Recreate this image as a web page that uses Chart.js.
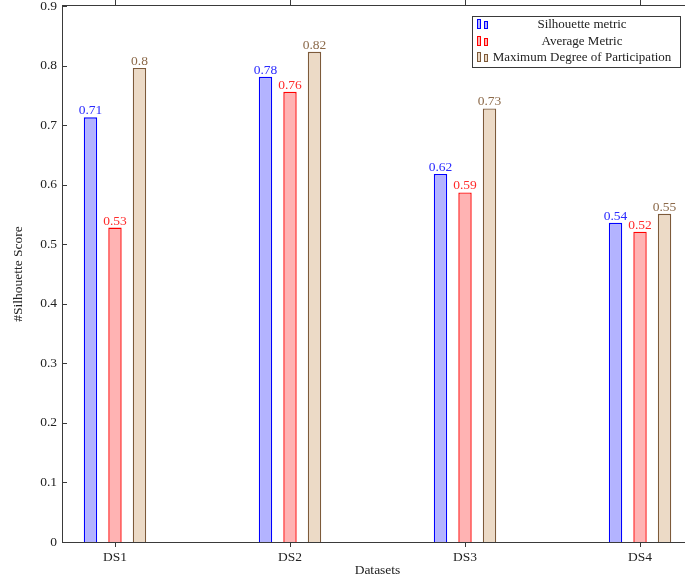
<!DOCTYPE html>
<html>
<head>
<meta charset="utf-8">
<script src="https://cdn.jsdelivr.net/npm/chart.js@4.4.1/dist/chart.umd.min.js"></script>
<style>
html,body{margin:0;padding:0;background:#fff;overflow:hidden;width:685px;height:580px;}
canvas{display:block;}
</style>
</head>
<body>
<canvas id="c" width="710" height="580" style="width:710px;height:580px"></canvas>
<script>
const categories = ['DS1', 'DS2', 'DS3', 'DS4'];
const categoryPos = [1, 2, 3, 4];
const seriesNames = ['Silhouette metric', 'Average Metric', 'Maximum Degree of Participation'];
const silhouette = [0.713, 0.781, 0.618, 0.536];
const average = [0.528, 0.756, 0.587, 0.521];
const maxDegree = [0.796, 0.823, 0.728, 0.551];
const yTicks = [0, 0.1, 0.2, 0.3, 0.4, 0.5, 0.6, 0.7, 0.8, 0.9];

const FONT = '"Liberation Serif", "DejaVu Serif", serif';
const borderColors = ['#0000ff', '#ff0000', '#7d5a3a'];
const fillColors = ['#b3b3ff', '#ffb3b3', '#ecdac6'];
const labelColors = ['#2a2aff', '#ff2a2a', '#8c6a4a'];
const AXIS = '#3a3a3a';

const seriesValues = [silhouette, average, maxDegree];
const datasets = seriesValues.map((vals, i) => ({
  label: seriesNames[i],
  data: vals.map((v, j) => ({x: categoryPos[j], y: v})),
  backgroundColor: fillColors[i],
  borderColor: borderColors[i],
  borderWidth: 1.4,
  borderSkipped: 'bottom',
  categoryPercentage: 0.42,
  barPercentage: 0.547
}));

const fmt = v => String(parseFloat(v.toFixed(2)));

const decor = {
  id: 'decor',
  afterDatasetsDraw(chart) {
    const ctx = chart.ctx;
    const a = chart.chartArea;
    const xs = chart.scales.x, ys = chart.scales.y;
    ctx.save();
    // value labels
    ctx.font = '13.5px ' + FONT;
    ctx.textAlign = 'center';
    ctx.textBaseline = 'alphabetic';
    chart.data.datasets.forEach((ds, i) => {
      const meta = chart.getDatasetMeta(i);
      meta.data.forEach((el, j) => {
        ctx.fillStyle = labelColors[i];
        ctx.fillText(fmt(ds.data[j].y), el.x, el.y - 3);
      });
    });
    // axis box
    ctx.strokeStyle = AXIS;
    ctx.lineWidth = 1;
    ctx.strokeRect(Math.round(a.left) - 0.5, Math.round(a.top) - 0.5, Math.round(a.right - a.left) + 1, Math.round(a.bottom - a.top) + 1);
    // y ticks inward
    ctx.beginPath();
    yTicks.forEach(t => {
      const y = Math.round(ys.getPixelForValue(t)) + 0.5;
      ctx.moveTo(a.left, y); ctx.lineTo(a.left + 4, y);
      ctx.moveTo(a.right, y); ctx.lineTo(a.right - 4, y);
    });
    // x ticks outward (top and bottom)
    categoryPos.forEach(p => {
      const x = Math.round(xs.getPixelForValue(p)) + 0.5;
      ctx.moveTo(x, a.top); ctx.lineTo(x, a.top - 6);
      ctx.moveTo(x, a.bottom); ctx.lineTo(x, a.bottom + 5);
    });
    ctx.stroke();
    // axis titles
    ctx.fillStyle = '#222';
    ctx.font = '13.5px ' + FONT;
    ctx.textAlign = 'center';
    ctx.textBaseline = 'middle';
    ctx.fillText('Datasets', (a.left + a.right) / 2, 570);
    ctx.save();
    ctx.translate(18, (a.top + a.bottom) / 2);
    ctx.rotate(-Math.PI / 2);
    ctx.fillText('#Silhouette Score', 0, 0);
    ctx.restore();
    // legend
    ctx.font = '13px ' + FONT;
    const lx = 472.5, ly = 16.5, lw = 208, lh = 51;
    ctx.fillStyle = '#fff';
    ctx.fillRect(lx, ly, lw, lh);
    ctx.strokeStyle = AXIS;
    ctx.strokeRect(lx, ly, lw, lh);
    const rows = [25, 42, 58];
    seriesNames.forEach((name, i) => {
      const cy = rows[i];
      ctx.fillStyle = fillColors[i];
      ctx.strokeStyle = borderColors[i];
      ctx.fillRect(477, cy - 6, 4, 10);
      ctx.strokeRect(477.5, cy - 5.5, 3, 9);
      ctx.fillRect(484, cy - 4, 4, 8);
      ctx.strokeRect(484.5, cy - 3.5, 3, 7);
      ctx.fillStyle = '#222';
      ctx.textAlign = 'center';
      ctx.textBaseline = 'middle';
      ctx.fillText(name, 582, cy);
    });
    ctx.restore();
  }
};

new Chart(document.getElementById('c'), {
  type: 'bar',
  data: { datasets },
  options: {
    responsive: false,
    animation: false,
    layout: { padding: { left: 0, top: 6, right: 18, bottom: 0 } },
    plugins: { legend: { display: false }, tooltip: { enabled: false } },
    scales: {
      x: {
        type: 'linear',
        offset: false,
        min: 0.703,
        max: 4.297,
        afterBuildTicks: s => { s.ticks = categoryPos.map(v => ({ value: v })); },
        afterFit: s => { s.height = 38; s.paddingLeft = 0; s.paddingRight = 0; },
        grid: { display: false, drawTicks: false, offset: false },
        border: { display: false },
        ticks: {
          padding: 7,
          color: '#222',
          font: { family: FONT, size: 13.5 },
          maxRotation: 0,
          autoSkip: false,
          callback: v => categories[categoryPos.indexOf(v)]
        }
      },
      y: {
        min: 0,
        max: 0.9,
        afterBuildTicks: s => { s.ticks = yTicks.map(v => ({ value: v })); },
        afterFit: s => { s.width = 63; s.paddingTop = 0; s.paddingBottom = 0; },
        grid: { display: false, drawTicks: false },
        border: { display: false },
        ticks: {
          padding: 6,
          color: '#222',
          font: { family: FONT, size: 13.5 },
          callback: v => String(v)
        }
      }
    }
  },
  plugins: [decor]
});
</script>
</body>
</html>
